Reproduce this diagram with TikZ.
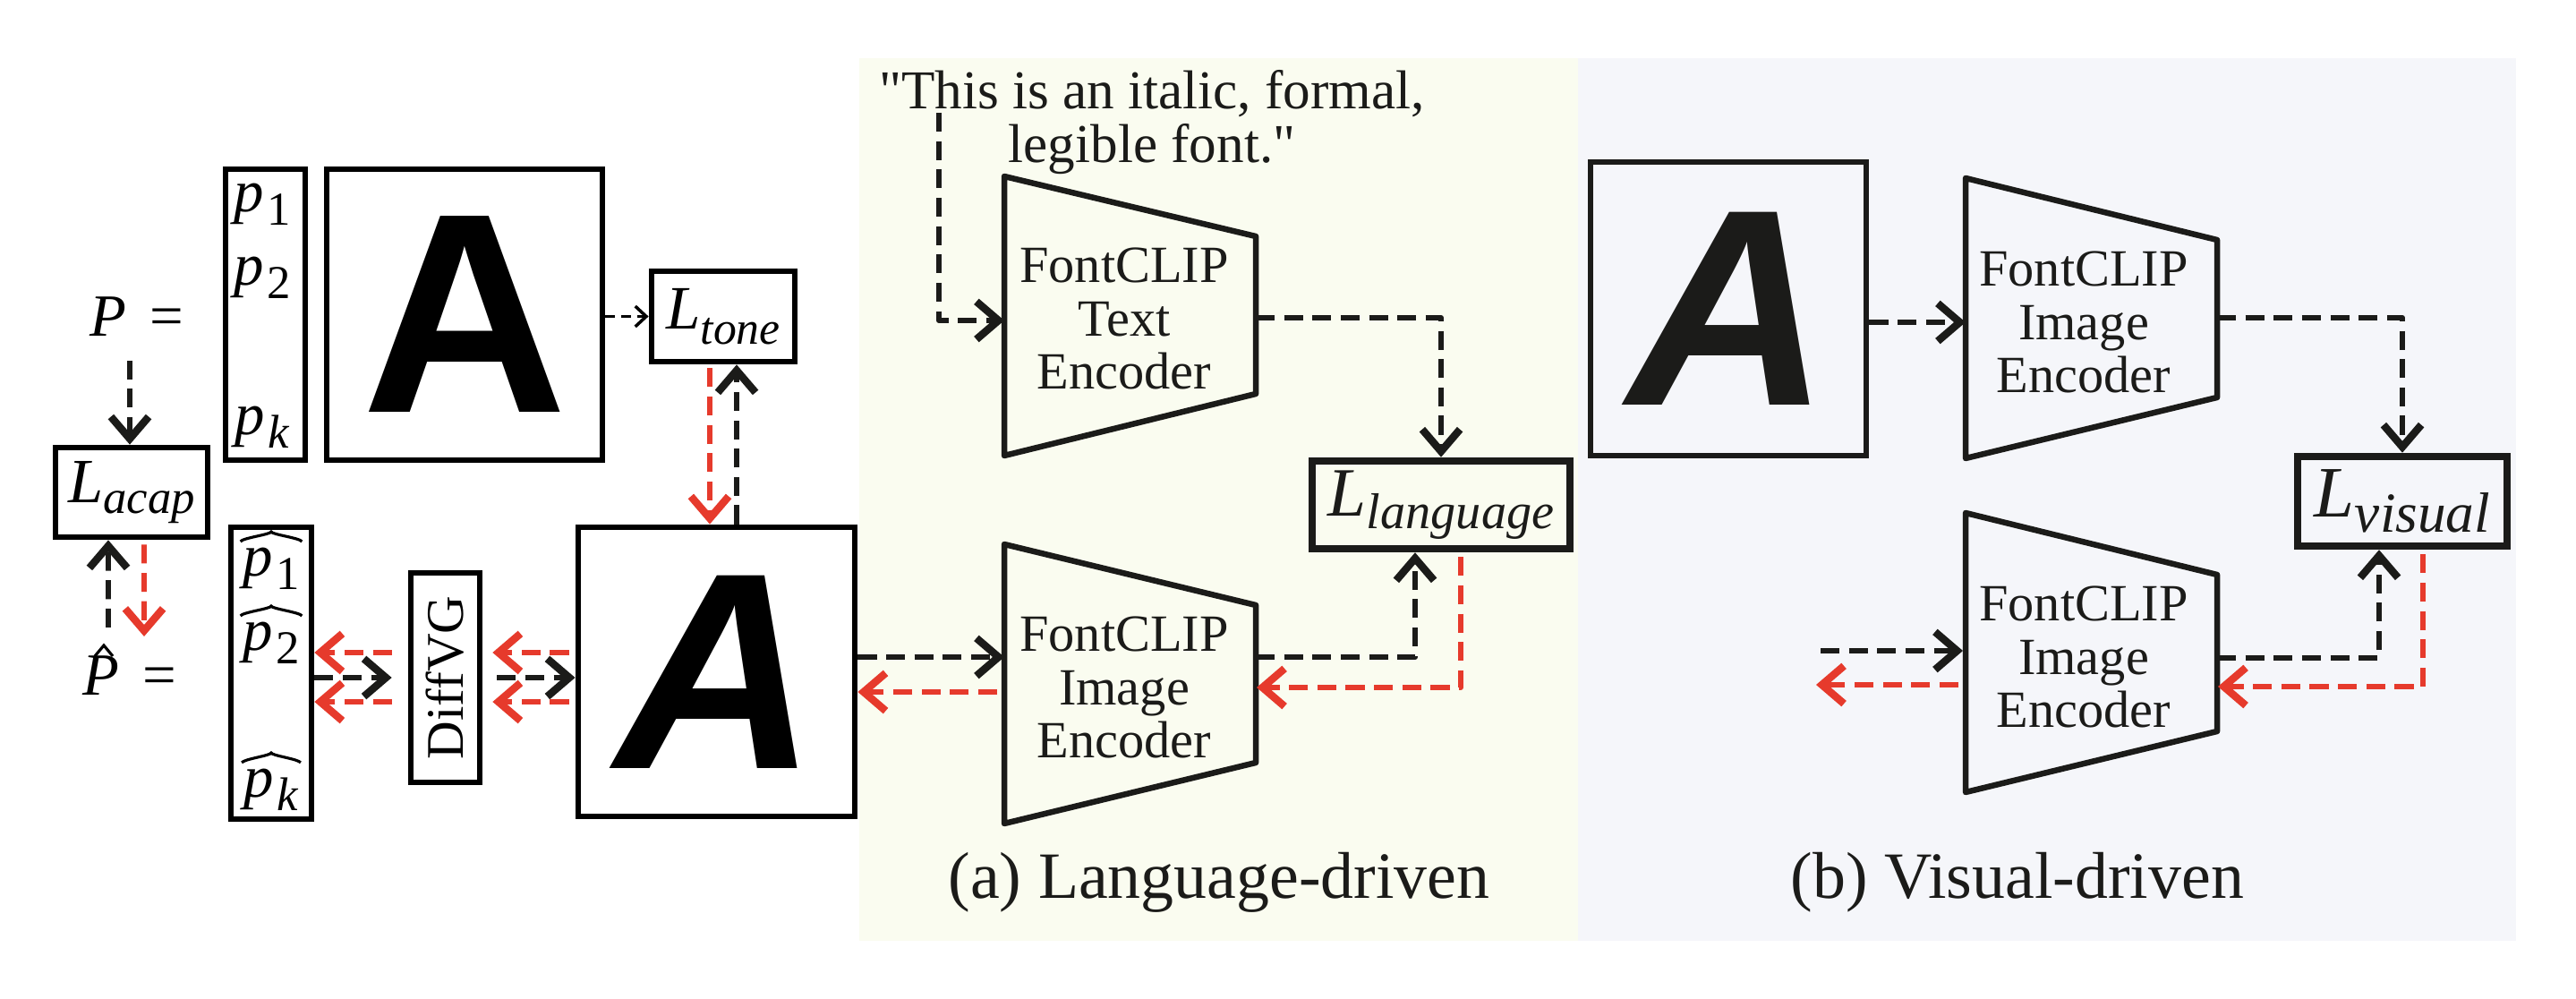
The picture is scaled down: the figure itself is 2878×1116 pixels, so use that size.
\documentclass[tikz,border=0pt]{standalone}
\usepackage{fontspec}
\setmainfont{Liberation Serif}
\newfontfamily\qfont{Liberation Serif}[Ligatures=TeXOff]
\newfontfamily\glyphfont{Liberation Sans}
\usetikzlibrary{arrows.meta}
\definecolor{ink}{HTML}{1B1B19}
\definecolor{redc}{HTML}{E63A2C}
\definecolor{bgA}{HTML}{FAFCF0}
\definecolor{bgB}{HTML}{F5F6FA}
\newcommand{\Lsub}[4]{{\fontsize{#1}{#1}\selectfont\itshape L}{\fontsize{#2}{#2}\selectfont\itshape\raisebox{-#3}{#4}}}
\newcommand{\psub}[1]{{\fontsize{19}{19}\selectfont\itshape p\kern1pt\raisebox{-4.3pt}{\fontsize{15}{15}\selectfont #1}}}
\begin{document}
\begin{tikzpicture}[x=0.01cm, y=-0.01cm,
  box/.style={draw=black, line width=1.9pt, inner sep=0pt},
  thickbox/.style={draw=ink, line width=2.4pt, inner sep=0pt, text=ink},
  trap/.style={draw=ink, line width=1.85pt, line join=round},
  enc/.style={align=center, inner sep=0pt, text=ink, font=\fontsize{16.6}{17}\selectfont},
  arr/.style={line width=1.7pt, dash pattern=on 6pt off 3pt, line join=round, -{Straight Barb[length=7pt,width=12pt,line width=2.4pt]}},
  blk/.style={arr, draw=ink},
  grad/.style={arr, draw=redc},
  thinarr/.style={draw=black, line width=0.85pt, dash pattern=on 3pt off 2pt, -{Straight Barb[length=3.5pt,width=6.5pt,line width=1pt]}},
  hatline/.style={draw=black, line width=0.9pt, line join=miter},
  glyphup/.style={font=\glyphfont\fontsize{90.5}{90.5}\selectfont\bfseries},
  glyphit/.style={font=\glyphfont\fontsize{89}{89}\selectfont\bfseries\itshape},
  caption/.style={anchor=base, inner sep=0pt, text=ink, font=\fontsize{21}{21}\selectfont},
  eqlabel/.style={anchor=base, inner sep=0pt, font=\fontsize{19}{19}\selectfont},
]
\useasboundingbox (0,0) rectangle (2878,1116);
\fill[white] (0,0) rectangle (2878,1116);
\fill[bgA] (960,65) rectangle (1763,1051);
\fill[bgB] (1763,65) rectangle (2811,1051);

% ---------- left part ----------
\node[box, minimum width=0.89cm, minimum height=3.25cm] (pbox) at (296.5,351.5) {};
\node[inner sep=0pt] (p1) at (293,228) {\psub{\upshape 1}};
\node[inner sep=0pt] (p2) at (293,310) {\psub{\upshape 2}};
\node[inner sep=0pt] (pk) at (293,477) {\psub{k}};
\node[box, glyphup, minimum width=3.08cm, minimum height=3.25cm] (Atop) at (519,351.5) {A};
\node[box, minimum width=1.60cm, minimum height=1.01cm] (Ltone) at (808,353.5) {\Lsub{19.6}{14.7}{5pt}{tone}};
\node[box, minimum width=1.70cm, minimum height=1.00cm] (Lacap) at (147,550) {\Lsub{20}{15}{3.4pt}{acap}};
\node[eqlabel] (Peq) at (153,376) {\textit{P}\hspace{7.5pt}=};
\node[eqlabel] (Phateq) at (145,777) {\textit{P}\hspace{7.5pt}=};
\draw[hatline] (106,733) -- (116,721) -- (126,733);

\node[box, minimum width=0.90cm, minimum height=3.26cm] (phatbox) at (303,752) {};
\node[inner sep=0pt] (ph1) at (303,635) {\psub{\upshape 1}};
\node[inner sep=0pt] (ph2) at (303,718) {\psub{\upshape 2}};
\node[inner sep=0pt] (phk) at (303,882) {\psub{k}};
\foreach \h in {ph1,ph2,phk}{
  \draw[hatline] ([xshift=-0.02cm,yshift=0.06cm]\h.north west) .. controls ([yshift=0.1cm]\h.north west) and ([yshift=0.14cm]\h.north) .. ([yshift=0.17cm]\h.north)
     .. controls ([yshift=0.14cm]\h.north) and ([yshift=0.1cm]\h.north east) .. ([xshift=0.02cm,yshift=0.06cm]\h.north east);
}
\node[box, minimum width=0.77cm, minimum height=2.34cm, font=\fontsize{16.8}{16.8}\selectfont] (diffvg) at (497.5,757) {\rotatebox{90}{DiffVG}};
\node[box, glyphit, minimum width=3.09cm, minimum height=3.23cm] (Abot) at (800.5,750.5) {A};

% left connectors
\draw[thinarr] (Atop.east |- Ltone) -- (Ltone.west);
\draw[grad, shorten <=0.04cm] ([xshift=-0.15cm]Ltone.south) -- ([xshift=-0.15cm]Ltone.south |- Abot.north);
\draw[blk] ([xshift=0.15cm]Ltone.south |- Abot.north) -- ([xshift=0.15cm]Ltone.south);
\coordinate (peqs) at ([xshift=-0.02cm]Lacap.north);
\draw[blk, shorten <=0.26cm] (peqs |- Peq.south) -- (peqs);
\coordinate (acapB) at ([xshift=-0.26cm]Lacap.south);
\coordinate (acapR) at ([xshift=0.14cm]Lacap.south);
\coordinate (phatUp) at (121,701);
\coordinate (phatDn) at (161,711);
\draw[blk] (phatUp) -- (acapB);
\draw[grad, shorten <=0.05cm] (acapR) -- (phatDn);

\draw[blk, shorten >=0.18cm] (phatbox.east |- diffvg) -- (diffvg.west);
\draw[grad, shorten <=0.18cm] ([yshift=0.28cm]diffvg.west) -- ([yshift=0.28cm]diffvg.west -| phatbox.east);
\draw[grad, shorten <=0.18cm] ([yshift=-0.27cm]diffvg.west) -- ([yshift=-0.27cm]diffvg.west -| phatbox.east);
\draw[blk, shorten <=0.16cm] (diffvg.east) -- (diffvg.east -| Abot.west);
\draw[grad, shorten <=0.07cm, shorten >=0.11cm] ([yshift=0.28cm]diffvg.east -| Abot.west) -- ([yshift=0.28cm]diffvg.east);
\draw[grad, shorten <=0.07cm, shorten >=0.11cm] ([yshift=-0.27cm]diffvg.east -| Abot.west) -- ([yshift=-0.27cm]diffvg.east);

% ---------- (a) language-driven ----------
\node[anchor=north, align=center, inner sep=0pt, text=ink, font=\qfont\fontsize{17.4}{17.1}\selectfont] (quote) at (1287,78) {"This is an italic, formal,\\legible font."};
\draw[trap] (1122,197) -- (1403,264) -- (1403,440) -- (1122,509) -- cycle;
\coordinate (teL) at (1122,358);
\coordinate (teR) at (1403,355);
\node[enc] (tetxt) at (1256,356) {FontCLIP\\Text\\Encoder};
\draw[trap] (1122,608) -- (1403,676) -- (1403,852) -- (1122,920) -- cycle;
\coordinate (ieLb) at (1122,734);
\coordinate (ieLr) at (1114,773);
\coordinate (ieRb) at (1403,734);
\coordinate (ieRr) at (1404,768);
\node[enc] (ietxt) at (1256,768) {FontCLIP\\Image\\Encoder};
\node[thickbox, minimum width=2.88cm, minimum height=0.98cm] (Llang) at (1610,564) {\Lsub{22}{16}{4pt}{language}};
\coordinate (qs) at (1049,126);
\draw[blk] (qs) |- (teL);
\draw[blk] (teR) -| (Llang.north);
\draw[blk] (Abot.east |- ieLb) -- (ieLb);
\draw[grad] (ieLr) -- (ieLr -| Abot.east);
\draw[blk] (ieRb) -| ([xshift=-0.29cm]Llang.south);
\draw[grad, shorten <=0.05cm] ([xshift=0.22cm]Llang.south) |- (ieRr);
\node[caption] (capA) at (1362,1003) {(a) Language-driven};

% ---------- (b) visual-driven ----------
\node[box, glyphit, draw=ink, text=ink, minimum width=3.08cm, minimum height=3.28cm] (Aright) at (1931,345) {A};
\draw[trap] (2196,199) -- (2477,268) -- (2477,444) -- (2196,512) -- cycle;
\coordinate (tbL) at (2196,360);
\coordinate (tbR) at (2477,355);
\node[enc] (tbtxt) at (2328,360) {FontCLIP\\Image\\Encoder};
\draw[trap] (2196,573) -- (2477,642) -- (2477,817) -- (2196,885) -- cycle;
\coordinate (bbLb) at (2193,727);
\coordinate (bbLr) at (2188,765);
\coordinate (bbRb) at (2477,735);
\coordinate (bbRr) at (2478,767);
\node[enc] (bbtxt) at (2328,734) {FontCLIP\\Image\\Encoder};
\node[thickbox, minimum width=2.34cm, minimum height=1.00cm] (Lvis) at (2684,560) {\Lsub{23}{18}{5pt}{visual}};
\coordinate (inB) at (2034,727);
\coordinate (outR) at (2029,765);
\draw[blk] (Aright.east |- tbL) -- (tbL);
\draw[blk] (tbR) -| (Lvis.north);
\draw[blk] (inB) -- (bbLb);
\draw[grad] (bbLr) -- (outR);
\draw[blk] (bbRb) -| ([xshift=-0.26cm]Lvis.south);
\draw[grad, shorten <=0.05cm] ([xshift=0.23cm]Lvis.south) |- (bbRr);
\node[caption] (capB) at (2254,1003) {(b) Visual-driven};
\end{tikzpicture}
\end{document}
